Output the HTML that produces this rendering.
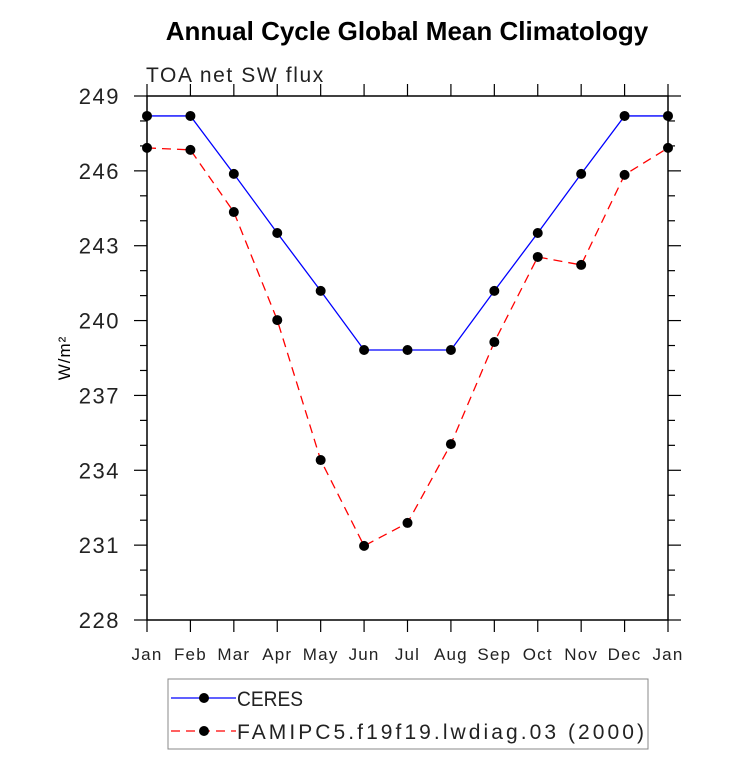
<!DOCTYPE html>
<html><head><meta charset="utf-8"><style>
body{margin:0;background:#fff}
svg text{font-family:"Liberation Sans",sans-serif}
</style></head><body>
<svg id="c" width="733" height="770" xmlns="http://www.w3.org/2000/svg">
<text x="407" y="40" text-anchor="middle" font-size="26" font-weight="bold">Annual Cycle Global Mean Climatology</text>
<text x="146" y="82" font-size="21" fill="#222" letter-spacing="1.6">TOA net SW flux</text>
<text transform="translate(70,358) rotate(-90)" text-anchor="middle" font-size="17" letter-spacing="1">W/m²</text>
<g id="axes"></g><g id="series"></g>
<g>
<rect x="168" y="679" width="480" height="70" fill="#fff" stroke="#888" stroke-width="1"/>
<line x1="171" y1="698" x2="236" y2="698" stroke="#00f" stroke-width="1.3"/>
<circle cx="204" cy="698" r="5" fill="#000"/>
<text x="237" y="706" font-size="21" fill="#222" textLength="66" lengthAdjust="spacingAndGlyphs">CERES</text>
<line x1="171" y1="731" x2="236" y2="731" stroke="#f00" stroke-width="1.3" stroke-dasharray="9,6"/>
<circle cx="204" cy="731" r="5" fill="#000"/>
<text x="237" y="739" font-size="21" fill="#222" textLength="407" lengthAdjust="spacing">FAMIPC5.f19f19.lwdiag.03 (2000)</text>
</g>
</svg>
<script>
const months=["Jan","Feb","Mar","Apr","May","Jun","Jul","Aug","Sep","Oct","Nov","Dec","Jan"];
const ceres=[248.2,248.2,245.88,243.51,241.19,238.82,238.82,238.82,241.19,243.51,245.88,248.2,248.2];
const famip=[246.92,246.84,244.35,240.02,234.41,230.97,231.89,235.05,239.14,242.55,242.23,245.84,246.92];
const yTicks=[228,231,234,237,240,243,246,249];
const NS="http://www.w3.org/2000/svg";
const L=147,R=668,T=96,B=620,ymin=228,ymax=249;
const xs=i=>L+(R-L)*i/(months.length-1);
const ys=v=>B-(v-ymin)*(B-T)/(ymax-ymin);
function mk(t,a,p){const e=document.createElementNS(NS,t);for(const k in a)e.setAttribute(k,a[k]);p.appendChild(e);return e;}
const ax=document.getElementById('axes');
const fr=mk('rect',{x:L,y:T,width:R-L,height:B-T,fill:'none',stroke:'#000','stroke-width':1.5},ax);


months.forEach((m,i)=>{const x=xs(i);
mk('line',{x1:x,y1:B,x2:x,y2:B+12,stroke:'#000','stroke-width':1.2},ax);
mk('line',{x1:x,y1:T,x2:x,y2:T-12,stroke:'#000','stroke-width':1.2},ax);
const t=mk('text',{x:x,y:B+40,'text-anchor':'middle','font-size':17,fill:'#222','letter-spacing':1.2},ax);t.textContent=m;

});
for(let v=ymin;v<=ymax;v++){const y=ys(v),maj=yTicks.includes(v),len=maj?13:7;
mk('line',{x1:L,y1:y,x2:L-len,y2:y,stroke:'#000','stroke-width':1.2},ax);
mk('line',{x1:R,y1:y,x2:R+len,y2:y,stroke:'#000','stroke-width':1.2},ax);}
yTicks.forEach(v=>{const t=mk('text',{x:120,y:ys(v)+8,'text-anchor':'end','font-size':22,fill:'#222','letter-spacing':1.5},ax);t.textContent=v;

});
const sg=document.getElementById('series');
function draw(vals,col,dash,name){
const pl=mk('polyline',{points:vals.map((v,i)=>xs(i)+','+ys(v)).join(' '),fill:'none',stroke:col,'stroke-width':1.3,'stroke-dasharray':dash},sg);


vals.forEach((v,i)=>{const c=mk('circle',{cx:xs(i),cy:ys(v),r:5,fill:'#000'},sg);

});}
draw(ceres,'#00f','none','ceres');
draw(famip,'#f00','9,6','famip');
</script>
</body></html>
